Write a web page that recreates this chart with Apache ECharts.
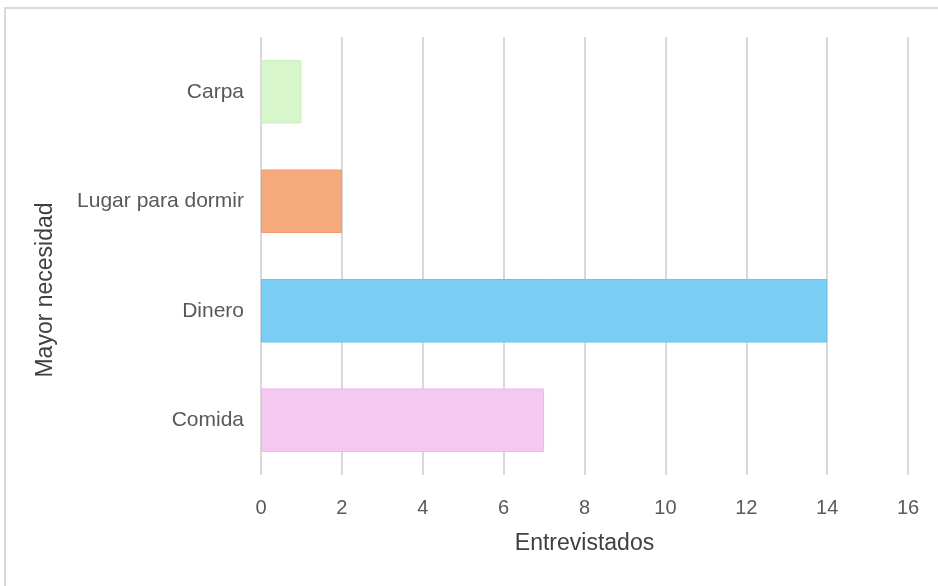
<!DOCTYPE html>
<html>
<head>
<meta charset="utf-8">
<script src="https://cdn.jsdelivr.net/npm/echarts@6/dist/echarts.min.js"></script>
<style>
  html, body { margin: 0; padding: 0; background: #fff; }
  #chart { width: 938px; height: 586px; }
</style>
</head>
<body>
<div id="chart"></div>
<script>
// data, bottom to top
var categories = ["Comida", "Dinero", "Lugar para dormir", "Carpa"];
var entrevistados = [7, 14, 2, 1];
var xTicks = [0, 2, 4, 6, 8, 10, 12, 14, 16];

// one fill + border per bar
var barFill = ["#f5c8f1", "#7acef3", "#f5a97c", "#d7f6cb"];
var barEdge = ["#efb6ea", "#68c4ef", "#f09c6c", "#cdefbf"];

var labelFont = "Liberation Sans, Arial, sans-serif";

var bars = entrevistados.map(function (v, i) {
  return {
    value: v,
    itemStyle: { color: barFill[i], borderColor: barEdge[i], borderWidth: 1 }
  };
});

var option = {
  animation: false,
  backgroundColor: "#fff",
  graphic: [{
    type: "rect",
    shape: { x: 5, y: 8, width: 1000, height: 1000 },
    style: { fill: "none", stroke: "#d9d9d9", lineWidth: 2 },
    silent: true
  }],
  grid: { left: 261, right: 30, top: 37, bottom: 111 },
  xAxis: {
    type: "value",
    min: xTicks[0],
    max: xTicks[xTicks.length - 1],
    interval: xTicks[1] - xTicks[0],
    name: "Entrevistados",
    nameLocation: "middle",
    nameGap: 57,
    nameTextStyle: { color: "#404040", fontSize: 23, fontFamily: labelFont },
    axisLine: { show: false },
    axisTick: { show: false },
    axisLabel: { color: "#595959", fontSize: 20, fontFamily: labelFont, margin: 23 },
    splitLine: { show: true, lineStyle: { color: "#d9d9d9", width: 2 } }
  },
  yAxis: {
    type: "category",
    data: categories,
    name: "Mayor necesidad",
    nameLocation: "middle",
    nameGap: 204,
    nameRotate: 90,
    // excel puts the title a bit below the plot centre
    nameTextStyle: { color: "#404040", fontSize: 23, fontFamily: labelFont, padding: [0, 68, 0, 0] },
    axisLine: { show: false },
    axisTick: { show: false },
    axisLabel: { color: "#595959", fontSize: 21, fontFamily: labelFont, margin: 17 },
    splitLine: { show: false }
  },
  series: [{
    type: "bar",
    data: bars,
    barCategoryGap: "42%"
  }]
};

var chart = echarts.init(document.getElementById("chart"));
chart.setOption(option);
</script>
</body>
</html>
